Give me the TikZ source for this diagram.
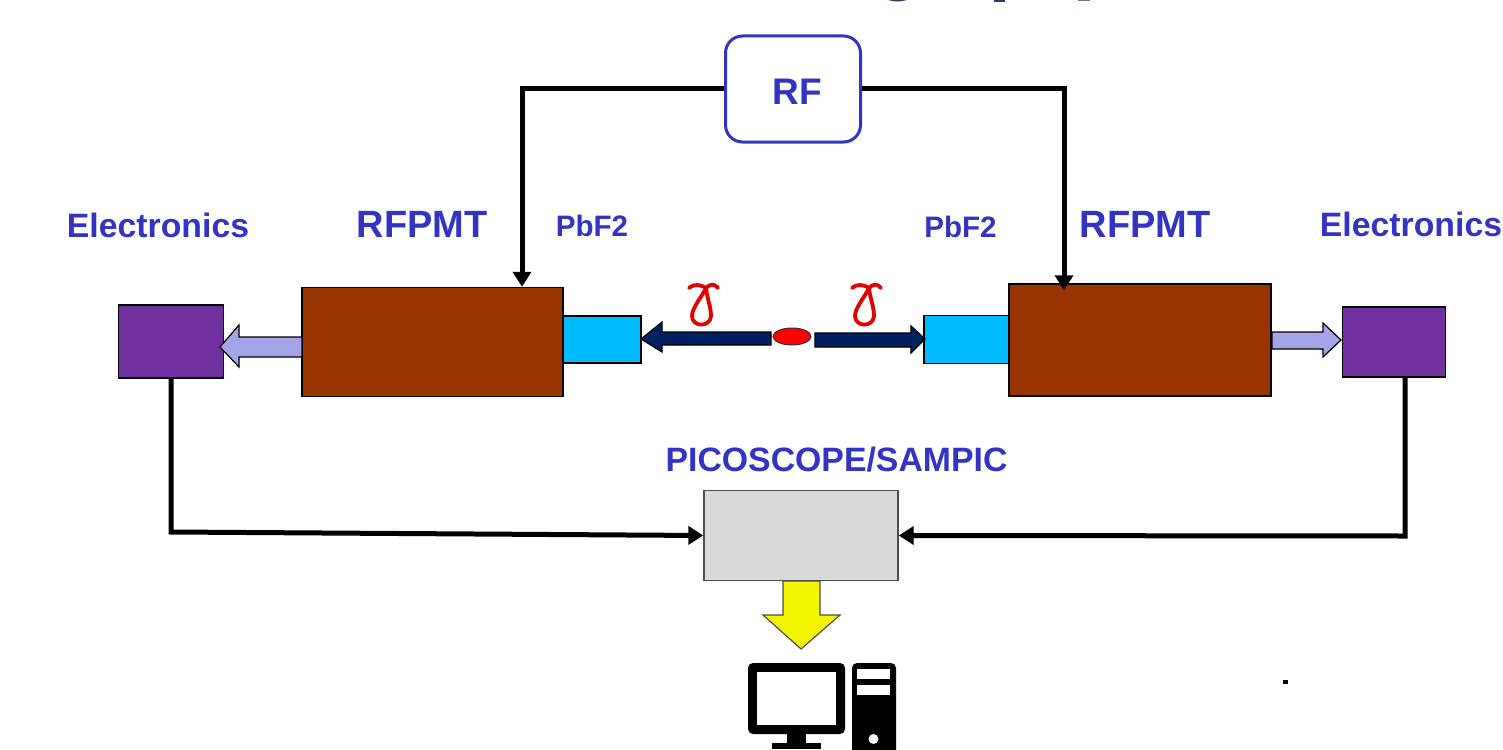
\documentclass[tikz,border=0pt]{standalone}
\usepackage{fontspec}
\setmainfont{Liberation Sans}
\usetikzlibrary{arrows.meta,calc,shapes.geometric}
\definecolor{lbl}{HTML}{3434C4}
\definecolor{brn}{HTML}{993300}
\definecolor{cyn}{HTML}{00BBFF}
\definecolor{pur}{HTML}{7030A0}
\definecolor{lil}{HTML}{A4A4E6}
\definecolor{nvy}{HTML}{002060}
\definecolor{gry}{HTML}{D9D9D9}
\definecolor{ylw}{HTML}{F5F500}
\definecolor{ttl}{HTML}{2A3F5F}
\tikzset{x=1pt,y=-1pt,
 lab/.style={text=lbl,inner sep=0pt,anchor=center},
 wire/.style={draw=black,line width=5pt,line join=miter},
 wirea/.style={wire,-{Stealth[length=15pt,width=18pt,inset=0pt]}},
 block/.style={draw=black,line width=1.4pt,inner sep=0pt},
 arrs/.style={draw=black,line width=1.2pt,line join=miter},
 gam/.style={red!90!black,line width=3.8pt,line cap=round,line join=round}
}
\begin{document}
\begin{tikzpicture}
\useasboundingbox (0,0) rectangle (1503,749);
% title remnant
\fill[ttl] (888,0) .. controls (895,2) and (900,2) .. (907,0) -- cycle;
\fill[ttl] (994,0) rectangle (1005,2);
\fill[ttl!70] (1078,0) rectangle (1090,1.5);
% blocks
\node[draw=lbl,line width=3pt,rounded corners=17pt,minimum width=135pt,minimum height=106pt,inner sep=0pt] (rf) at (793,89) {};
\node[lab,font=\bfseries\fontsize{37}{40}\selectfont] (rft) at (797.5,92) {RF};
\node[block,fill=brn,minimum width=261pt,minimum height=109pt] (pl) at (432.5,342) {};
\node[block,fill=brn,minimum width=262pt,minimum height=112pt] (pr) at (1140,340) {};
\node[block,fill=cyn,minimum width=78pt,minimum height=47pt] (cl) at (602,339.5) {};
\node[block,fill=cyn,minimum width=85pt,minimum height=48pt] (cr) at (966.5,339.5) {};
\node[block,fill=pur,minimum width=105pt,minimum height=73pt] (el) at (171,341.5) {};
\node[block,fill=pur,minimum width=103pt,minimum height=70pt] (er) at (1394,342) {};
\node[block,draw=black!70,fill=gry,minimum width=194pt,minimum height=90pt] (sc) at (801,535.5) {};
\node[draw=black!80,fill=red,line width=1pt,ellipse,minimum width=38pt,minimum height=17pt,inner sep=0pt] (src) at (792,336.5) {};
% labels
\node[lab,font=\bfseries\fontsize{33.8}{36}\selectfont] (t1) at (158,225.5) {Electronics};
\node[lab,font=\bfseries\fontsize{33.8}{36}\selectfont] (t2) at (1411,224) {Electronics};
\node[lab,font=\bfseries\fontsize{38}{40}\selectfont] (t3) at (422,224) {RFPMT};
\node[lab,font=\bfseries\fontsize{38}{40}\selectfont] (t4) at (1145,224) {RFPMT};
\node[lab,font=\bfseries\fontsize{29.6}{32}\selectfont] (t5) at (592,225.5) {PbF2};
\node[lab,font=\bfseries\fontsize{29.6}{32}\selectfont] (t6) at (960.5,227) {PbF2};
\node[lab,font=\bfseries\fontsize{33.8}{36}\selectfont] (t7) at (836.5,460) {PICOSCOPE/SAMPIC};
% wires
\coordinate (a1) at (522,89);
\coordinate (a2) at (1064,89);
\coordinate (a3) at (171,532);
\coordinate (a4) at (1405,536);
\draw[wirea] (rf.west) -- (a1) -- (pl.north -| a1);
\draw[wirea,shorten >=-7pt] (rf.east) -- (a2) -- (pr.north -| a2);
\draw[wirea] (el.south) -- (a3) -- (sc.west);
\draw[wirea] (er.south -| a4) -- (a4) -- (sc.east);
% block arrows
\draw[arrs,fill=lil] (302,337) -- (239,337) -- (239,325) -- (220,347) -- (239,367) -- (239,357) -- (302,357) -- cycle;
\draw[arrs,fill=lil] (1272,332) -- (1323,332) -- (1323,323) -- (1341,340) -- (1323,357) -- (1323,349) -- (1272,349) -- cycle;
\draw[arrs,fill=nvy] (771,332) -- (662,332) -- (662,322) -- (641,339) -- (662,352) -- (662,345) -- (771,345) -- cycle;
\draw[arrs,fill=nvy] (815,333) -- (911,333) -- (911,326) -- (925,339) -- (911,353) -- (911,347) -- (815,347) -- cycle;
\draw[draw=black!70,line width=1.2pt,fill=ylw] (783,581) -- (820,581) -- (820,615) -- (840,615) -- (801,649) -- (763,615) -- (783,615) -- cycle;
% gamma
\draw[gam]
 (689,288) .. controls (695,283) and (701,285) .. (706,288) .. controls (710,284) and (714,283) .. (718,288)
 (706,288) .. controls (701,298) and (692,308) .. (692,316) .. controls (692,327) and (710,328) .. (711,316) .. controls (711,307) and (707,298) .. (706,288);
\draw[gam]
 (852,288) .. controls (858,283) and (864,285) .. (869,288) .. controls (873,284) and (877,283) .. (881,288)
 (869,288) .. controls (864,298) and (855,308) .. (855,316) .. controls (855,327) and (873,328) .. (874,316) .. controls (874,307) and (870,298) .. (869,288);
% computer
\fill[black,rounded corners=5pt] (748,663) rectangle (845,734);
\fill[white] (757,672) rectangle (836,725);
\fill[black] (787,733) rectangle (806,744);
\fill[black] (772,743) rectangle (821,749);
\fill[black,rounded corners=5pt] (852,663) rectangle (896,755);
\fill[white] (857,669) rectangle (890,679);
\fill[white] (857,685) rectangle (890,695);
\fill[white] (873.5,739) circle (5pt);
% dot
\fill[black] (1283,680) rectangle (1288,684);
\end{tikzpicture}
\end{document}
